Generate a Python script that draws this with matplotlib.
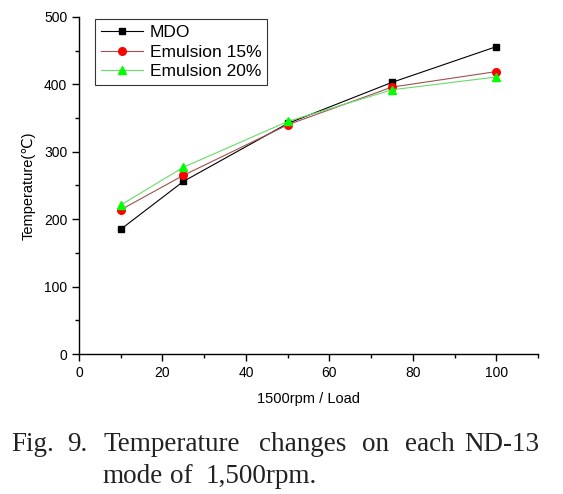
import matplotlib.pyplot as plt
from matplotlib.ticker import MultipleLocator

load = [10, 25, 50, 75, 100]
mdo = [185, 256, 342, 403, 456]
emul15 = [214, 265, 340, 396, 419]
emul20 = [221, 277, 345, 392, 411]

plt.rcParams['font.family'] = ['Liberation Sans', 'DejaVu Sans']

fig = plt.figure(figsize=(5.63, 4.94), dpi=100)
ax = fig.add_axes([79 / 563, 140 / 494, 459 / 563, 337 / 494])

ax.plot(load, mdo, color='black', lw=0.8, marker='s', ms=5, mfc='black', mec='black', label='MDO')
ax.plot(load, emul15, color='#a05050', lw=0.8, marker='o', ms=5.5, mfc='#ff0000', mec='#ff0000', label='Emulsion 15%')
ax.plot(load, emul20, color='#66dd66', lw=0.8, marker='^', ms=6, mfc='#00ff00', mec='#00ff00', label='Emulsion 20%')

ax.set_xlim(0, 110)
ax.set_ylim(0, 500)
ax.xaxis.set_major_locator(MultipleLocator(20))
ax.xaxis.set_minor_locator(MultipleLocator(10))
ax.yaxis.set_major_locator(MultipleLocator(100))
ax.yaxis.set_minor_locator(MultipleLocator(50))
ax.tick_params(which='major', direction='out', length=5, width=1, labelsize=10)
ax.tick_params(which='minor', direction='out', length=3, width=1)
for s in ['top', 'right']:
    ax.spines[s].set_visible(False)
for s in ['left', 'bottom']:
    ax.spines[s].set_linewidth(1)

ax.set_xlabel('1500rpm / Load', fontsize=10.5, labelpad=9)
ax.set_ylabel('Temperature(℃)', fontsize=10.5, labelpad=6)

leg = ax.legend(loc='upper left', bbox_to_anchor=(0.035, 0.994), fontsize=12.5, frameon=True,
                fancybox=False, edgecolor='black', handlelength=2.4, borderpad=0.35,
                labelspacing=0.25, handletextpad=0.4, borderaxespad=0)
leg.get_frame().set_linewidth(0.8)

# caption, justified by placing each word
cap = dict(family=['Liberation Serif', 'DejaVu Serif'], fontsize=19.5, va='baseline', color='#222222')
words = ['Fig.', '9.', 'Temperature', 'changes', 'on', 'each', 'ND-13']
xs = [11, 67, 103, 259, 362, 405, 464]
for w, x in zip(words, xs):
    fig.text(x / 563, 1 - 451 / 494, w, ha='left', **cap)
for w, x in zip(['mode', 'of', '1,500rpm.'], [102, 170, 206]):
    fig.text(x / 563, 1 - 483 / 494, w, ha='left', **cap)

fig.savefig('out.png', dpi=100)
